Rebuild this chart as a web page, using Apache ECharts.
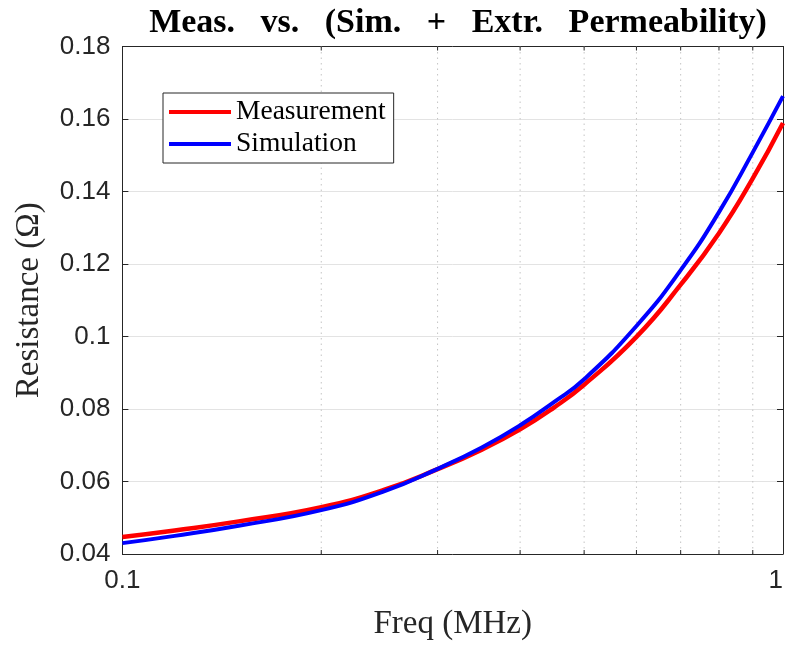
<!DOCTYPE html>
<html>
<head>
<meta charset="utf-8">
<script src="https://cdn.jsdelivr.net/npm/echarts@6/dist/echarts.min.js"></script>
<style>
html,body{margin:0;padding:0;background:#fff;}
#main{width:786px;height:646px;}
</style>
</head>
<body>
<div id="main"></div>
<script>
// Frequencies (MHz)
const freq = [0.1, 0.12, 0.15, 0.2, 0.25, 0.3, 0.35, 0.4, 0.45, 0.5, 0.6, 0.7, 0.8, 0.9, 1.0];
// Resistance (Ohm)
const measurement = [0.0447, 0.0465, 0.0490, 0.0529, 0.0578, 0.0634, 0.0688, 0.0744, 0.0804, 0.0867, 0.0999, 0.1143, 0.1285, 0.1436, 0.1589];
const simulation  = [0.0430, 0.0450, 0.0478, 0.0521, 0.0574, 0.0635, 0.0694, 0.0755, 0.0819, 0.0882, 0.1029, 0.1183, 0.1343, 0.1508, 0.1663];
// Minor log grid positions
const minorFreq = [0.2, 0.3, 0.4, 0.5, 0.6, 0.7, 0.8, 0.9];
const yMin = 0.04, yMax = 0.18, yStep = 0.02;
const xMin = 0.1, xMax = 1;

const chart = echarts.init(document.getElementById('main'), null, {renderer: 'canvas'});
const dark = '#262626';
const sans = 'Liberation Sans';
const serif = 'Liberation Serif';

const option = {
  backgroundColor: '#fff',
  animation: false,
  title: {
    text: 'Meas.   vs.   (Sim.   +   Extr.   Permeability)',
    left: 453, top: 1, textAlign: 'center',
    textStyle: {fontFamily: serif, fontWeight: 'bold', fontSize: 34, color: '#000'}
  },
  legend: {
    data: ['Measurement', 'Simulation'],
    orient: 'vertical',
    left: 163, top: 93,
    icon: 'rect',
    itemWidth: 62, itemHeight: 4, itemGap: 2,
    padding: [4, 8, 4, 6],
    backgroundColor: '#fff',
    borderColor: dark, borderWidth: 1, borderRadius: 0,
    textStyle: {fontFamily: serif, fontSize: 27.5, color: '#000', lineHeight: 30}
  },
  grid: {left: 122.4, right: -6.4, top: 46.5, bottom: 88.3, containLabel: false},
  xAxis: [{
    type: 'log', logBase: 10, min: xMin, max: xMax, position: 'bottom',
    name: 'Freq (MHz)', nameLocation: 'middle', nameGap: 54,
    nameTextStyle: {fontFamily: serif, fontSize: 33, color: dark},
    axisLine: {show: true, lineStyle: {color: dark, width: 1}},
    axisTick: {show: true, inside: true, length: 6, lineStyle: {color: dark}},
    axisLabel: {fontFamily: sans, fontSize: 26, color: dark, margin: 14, alignMaxLabel: 'right',
      formatter: v => (Math.abs(v - 1) < 1e-9 ? '1' : String(+v.toPrecision(3)))},
    splitLine: {show: false}
  }, {
    type: 'log', logBase: 10, min: xMin, max: xMax, position: 'top',
    axisLine: {show: true, lineStyle: {color: dark, width: 1}},
    axisTick: {show: true, inside: true, length: 6, lineStyle: {color: dark}},
    axisLabel: {show: false}, splitLine: {show: false}
  }],
  yAxis: [{
    type: 'value', min: yMin, max: yMax, interval: yStep, position: 'left',
    name: 'Resistance (Ω)', nameLocation: 'middle', nameGap: 77,
    nameTextStyle: {fontFamily: serif, fontSize: 33, color: dark},
    axisLine: {show: true, lineStyle: {color: dark, width: 1}},
    axisTick: {show: true, inside: true, length: 6, lineStyle: {color: dark}},
    axisLabel: {fontFamily: sans, fontSize: 26, color: dark, margin: 12,
      formatter: v => String(+v.toFixed(2))},
    splitLine: {show: true, lineStyle: {color: '#e3e3e3', width: 1}}
  }, {
    type: 'value', min: yMin, max: yMax, interval: yStep, position: 'right',
    axisLine: {show: true, lineStyle: {color: dark, width: 1}},
    axisTick: {show: true, inside: true, length: 6, lineStyle: {color: dark}},
    axisLabel: {show: false}, splitLine: {show: false}
  }],
  series: [{
    name: 'minorGrid', type: 'custom', silent: true, z: 1,
    xAxisIndex: 0, yAxisIndex: 0,
    data: minorFreq.map(v => [v, yMin]),
    encode: {x: 0, y: 1},
    renderItem: function (params, api) {
      const v = api.value(0);
      const t = api.coord([v, yMax]);
      const b = api.coord([v, yMin]);
      return {
        type: 'group',
        children: [
          {type: 'line', shape: {x1: b[0], y1: b[1], x2: t[0], y2: t[1]},
           style: {stroke: '#c4c4c4', lineWidth: 1, lineDash: [1.5, 4]}},
          {type: 'line', shape: {x1: b[0], y1: b[1], x2: b[0], y2: b[1] - 4},
           style: {stroke: dark, lineWidth: 1}},
          {type: 'line', shape: {x1: t[0], y1: t[1], x2: t[0], y2: t[1] + 4},
           style: {stroke: dark, lineWidth: 1}}
        ]
      };
    }
  }, {
    name: 'Measurement', type: 'line', smooth: 0.5, symbol: 'none', z: 3,
    data: freq.map((f, i) => [f, measurement[i]]),
    lineStyle: {color: '#ff0000', width: 4.5}, itemStyle: {color: '#ff0000'}
  }, {
    name: 'Simulation', type: 'line', smooth: 0.5, symbol: 'none', z: 4,
    data: freq.map((f, i) => [f, simulation[i]]),
    lineStyle: {color: '#0000ff', width: 4}, itemStyle: {color: '#0000ff'}
  }]
};
chart.setOption(option);
</script>
</body>
</html>
